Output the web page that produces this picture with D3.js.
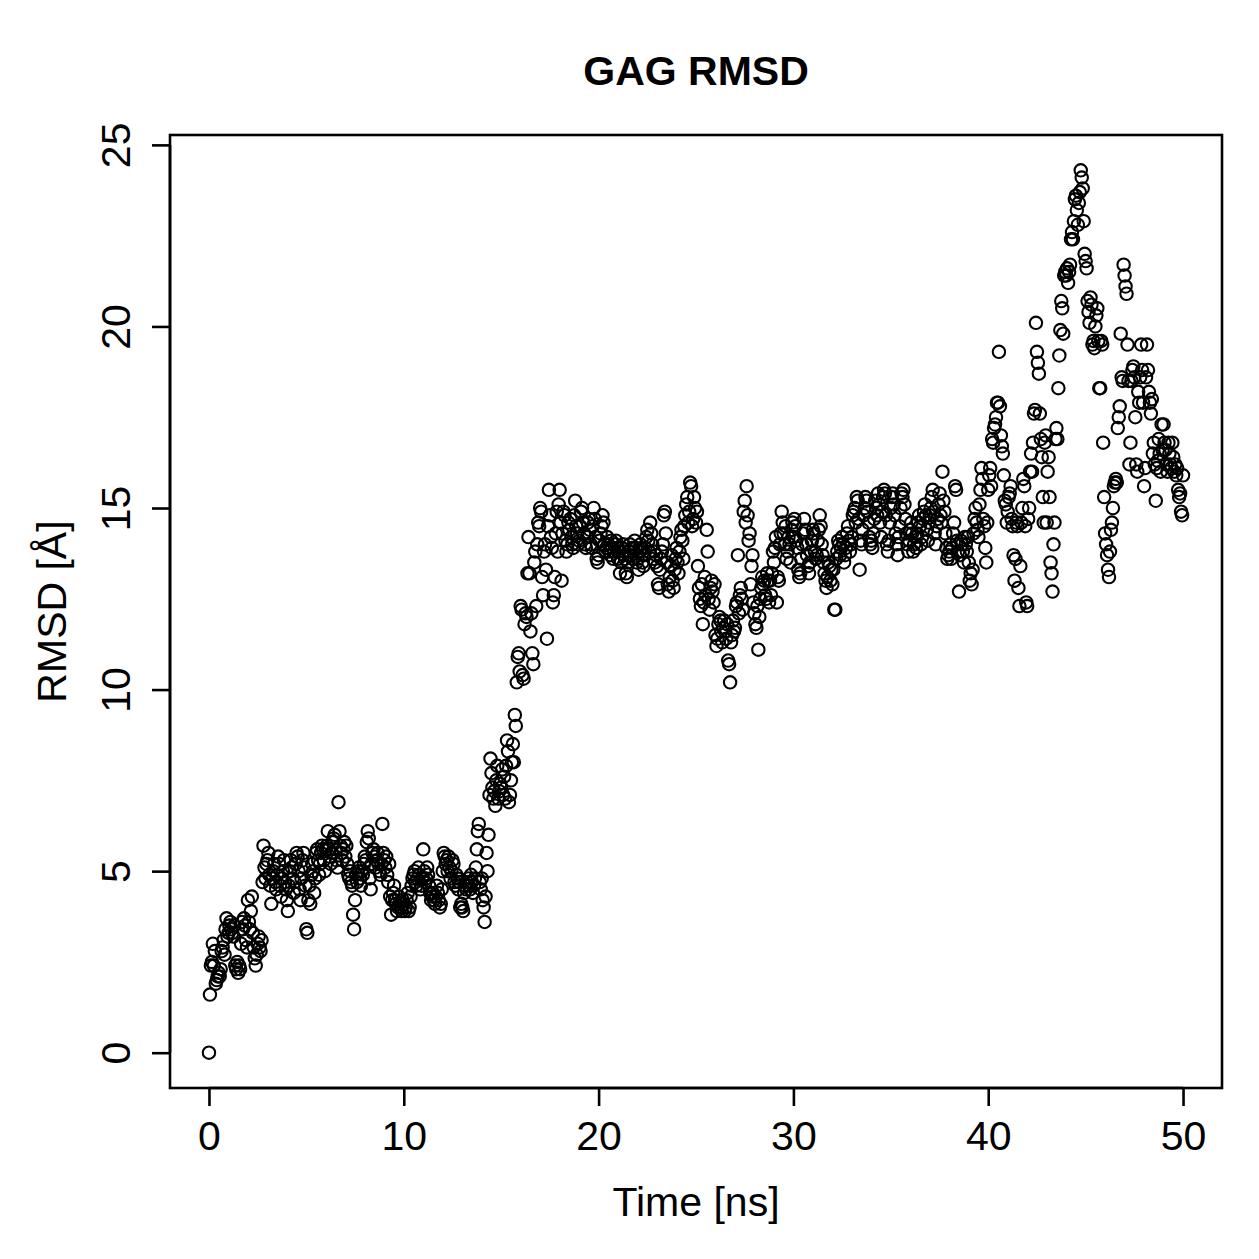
<!DOCTYPE html>
<html>
<head>
<meta charset="utf-8">
<script src="https://cdn.jsdelivr.net/npm/d3@7"></script>
<style>
  html, body { margin: 0; padding: 0; background: #fff; }
  svg text { font-family: "Liberation Sans", Arial, Helvetica, sans-serif; fill: #000; }
</style>
</head>
<body>
<svg id="chart" width="1259" height="1259"></svg>
<script>
// ---- Data ----
const chartTitle = "GAG RMSD";
const xLabel = "Time [ns]";
const yLabel = "RMSD [Å]";
const xTicks = [0, 10, 20, 30, 40, 50];
const yTicks = [0, 5, 10, 15, 20, 25];

// RMSD values, one row per nanosecond (20 frames per ns, 0.05 ns spacing)
const rmsdPerNs = [
  [0.0,1.6,2.4,2.5,3.0,2.4,2.8,1.9,2.0,2.1,2.2,2.1,2.3,2.8,2.9,3.1,2.7,3.4,3.7,3.2],
  [3.3,3.5,3.6,3.4,3.3,3.2,3.5,2.4,2.3,2.5,2.2,2.4,2.3,3.0,3.6,3.4,3.7,3.5,3.1,2.9],
  [4.2,3.6,3.4,3.9,4.3,3.3,2.9,2.6,2.4,2.7,3.0,3.2,2.9,2.8,3.1,4.7,5.7,5.1,4.8,5.2],
  [5.3,5.5,4.9,4.6,4.1,4.8,5.0,5.2,4.7,4.5,4.9,5.4,5.2,4.6,4.3,4.8,5.0,5.3,4.7,4.5],
  [4.2,3.9,4.6,5.0,5.3,5.1,4.8,4.4,4.7,5.2,5.5,5.4,5.0,4.5,4.2,4.8,5.3,5.5,5.1,4.6],
  [3.4,3.3,4.2,4.6,4.1,4.9,5.2,5.0,4.4,4.8,5.5,5.6,5.3,4.9,5.2,5.5,5.7,5.6,5.3,5.0],
  [5.6,5.7,6.1,5.6,5.4,5.2,5.5,5.8,5.9,6.0,5.6,5.3,5.1,6.9,6.1,5.7,5.5,5.3,5.6,5.8],
  [5.4,5.7,5.2,4.9,4.8,5.0,4.7,4.6,3.8,3.4,4.2,4.9,4.7,5.0,5.1,4.8,4.6,5.0,4.9,5.2],
  [5.4,5.3,5.8,6.1,5.9,4.8,4.5,5.2,5.5,5.6,5.4,5.1,5.3,5.5,5.2,5.0,4.9,5.2,6.3,5.5],
  [5.3,5.1,5.4,4.9,4.7,5.2,4.3,3.8,4.2,4.4,4.6,4.2,4.1,3.9,4.0,4.3,4.1,4.0,3.9,4.2],
  [4.1,3.9,4.0,4.2,4.4,3.9,4.0,4.3,4.6,4.8,4.9,5.0,4.7,4.6,4.8,5.1,4.9,4.5,4.6,4.8],
  [5.6,5.0,4.7,4.8,5.1,4.9,4.6,4.4,4.2,4.3,4.4,4.2,4.1,4.3,4.6,4.4,4.2,4.0,4.1,4.5],
  [5.0,5.5,5.4,5.2,5.3,5.0,5.4,5.1,4.8,5.0,5.3,5.2,4.7,4.6,4.9,4.8,4.5,4.7,4.0,4.1],
  [4.0,3.9,4.4,4.6,4.5,4.7,4.8,4.6,4.5,4.9,4.7,4.4,4.6,4.8,5.1,5.6,6.1,6.3,4.7,4.5],
  [4.8,4.2,4.0,3.6,4.3,5.5,5.0,6.0,7.1,8.1,7.7,7.3,7.0,7.2,6.8,7.5,7.9,7.0,7.2,7.4],
  [7.3,7.8,7.1,7.6,7.0,7.9,8.6,8.3,6.9,7.1,7.5,8.0,8.5,8.0,9.3,9.0,10.2,10.9,11.0,10.5],
  [12.3,12.2,10.4,10.3,11.8,12.1,12.0,13.2,14.2,13.2,11.6,12.1,11.0,10.7,13.5,13.8,12.3,14.0,14.6,14.5],
  [15.0,14.9,13.1,12.6,13.8,14.0,13.3,11.4,14.5,15.5,14.8,14.2,13.9,12.4,12.6,13.1,14.3,14.9,13.8,15.1],
  [15.5,14.6,13.0,14.3,14.9,14.8,14.1,13.8,14.0,14.6,14.4,14.7,14.2,14.0,13.9,14.8,15.2,14.5,14.3,14.0],
  [14.1,14.5,14.9,15.0,14.6,14.3,14.0,13.9,14.2,14.6,14.7,14.4,14.0,13.9,14.5,15.0,14.7,14.2,13.6,13.5],
  [13.7,14.1,14.3,14.5,14.8,14.6,14.0,13.8,13.9,14.2,14.0,13.8,13.7,14.1,13.9,13.6,13.8,14.0,14.1,13.9],
  [13.6,13.8,13.2,13.5,13.9,14.0,13.7,13.6,13.2,13.1,13.5,13.8,14.0,13.7,13.9,13.6,13.8,14.1,13.9,13.5],
  [13.6,13.3,13.8,14.0,13.9,13.5,13.4,13.7,13.9,14.2,14.4,14.1,13.8,14.6,14.3,14.0,13.6,13.8,13.5,13.7],
  [13.4,12.9,12.8,13.3,13.6,13.8,14.0,14.8,14.9,14.3,13.5,12.9,12.7,13.1,13.4,13.7,13.0,12.8,13.3,13.6],
  [13.9,13.5,13.2,13.8,14.2,14.4,14.1,13.6,14.5,14.8,15.1,15.3,14.6,14.9,15.7,15.6,14.5,14.7,15.3,15.0],
  [14.6,14.9,13.4,12.8,12.5,12.3,12.9,11.8,12.4,13.1,12.6,14.4,13.8,12.5,12.2,12.8,13.0,12.7,12.4,12.9],
  [11.5,11.2,11.4,11.8,12.0,11.9,11.6,11.3,11.7,11.9,11.6,11.4,11.8,10.8,10.7,10.2,11.3,11.5,11.9,11.6],
  [11.7,12.3,12.4,13.7,12.1,12.6,12.8,12.5,12.2,14.9,15.2,14.6,15.6,14.8,14.1,14.3,12.9,13.4,13.7,12.4],
  [12.1,11.8,11.7,12.3,11.1,12.0,12.5,12.8,13.1,12.9,13.0,12.6,12.5,13.2,13.0,12.4,13.0,12.6,13.2,13.8],
  [13.5,13.9,14.2,12.4,13.1,13.0,14.0,14.3,14.9,14.6,14.3,14.0,14.5,13.6,13.8,14.2,14.0,13.5,14.4,14.6],
  [14.2,14.7,14.5,14.1,13.9,13.3,13.1,13.2,13.6,14.0,14.3,14.7,14.4,14.0,13.7,13.4,13.2,13.5,13.8,14.1],
  [14.4,14.3,13.8,13.6,13.7,14.1,14.4,14.8,14.5,14.0,13.7,13.5,13.2,13.0,12.8,13.1,13.5,13.4,13.0,13.3],
  [12.9,13.3,12.2,12.2,13.6,13.8,14.1,14.0,13.7,13.9,14.2,14.0,13.5,13.7,13.9,14.3,14.5,14.1,13.8,14.0],
  [14.2,14.8,14.9,15.0,14.6,15.3,15.2,14.7,13.3,14.1,14.0,14.4,14.8,15.0,15.3,15.2,14.9,14.6,14.2,14.0],
  [14.1,13.9,14.3,14.7,15.2,15.0,14.8,15.4,15.1,14.6,14.2,14.9,15.3,15.5,15.4,14.8,14.0,13.8,14.1,14.6],
  [15.0,15.3,15.4,15.1,14.8,14.3,14.0,13.7,14.2,14.5,15.0,15.4,15.3,15.5,15.1,14.7,14.3,14.0,13.8,14.1],
  [14.4,14.6,14.3,13.8,14.0,14.2,13.9,14.3,14.6,14.8,14.5,14.0,14.2,14.7,14.9,15.1,14.8,14.4,14.1,14.6],
  [14.8,15.0,15.3,15.5,14.9,14.3,14.0,14.5,14.7,15.1,15.4,14.8,14.6,16.0,15.2,14.9,14.3,13.9,13.6,13.7],
  [13.8,14.0,13.6,13.9,14.3,14.6,15.6,15.5,14.1,13.8,12.7,13.7,14.1,14.0,13.8,13.5,14.2,14.0,13.8,14.2],
  [13.5,13.0,13.2,12.9,13.3,14.3,14.7,15.0,14.6,14.4,14.2,15.1,15.5,16.1,15.8,14.7,14.5,13.9,13.5,14.6],
  [15.5,15.9,16.1,15.6,16.9,16.8,17.2,17.3,17.5,17.9,17.9,19.3,17.8,17.0,16.7,16.5,15.9,15.2,15.1,14.6],
  [14.9,15.3,15.4,15.6,14.7,14.5,13.7,13.0,13.6,14.6,14.5,12.8,12.3,13.4,14.6,15.0,15.8,15.6,14.5,12.4],
  [12.3,14.7,15.0,16.0,16.5,16.0,16.8,17.6,17.7,20.1,19.3,19.0,18.7,17.6,16.9,16.4,15.3,14.6,16.8,17.0],
  [14.6,16.0,16.4,15.3,13.5,13.2,12.7,14.0,14.6,16.9,17.2,16.9,18.3,19.2,19.9,20.7,20.5,19.8,21.4,21.5],
  [21.4,21.6,21.2,21.5,21.7,22.4,22.6,22.4,22.9,23.5,23.6,23.2,22.8,23.4,23.7,24.3,24.1,23.8,22.9,22.0],
  [21.8,21.6,20.7,20.4,20.1,20.8,20.6,19.5,19.6,19.4,20.0,20.3,20.5,19.6,18.3,18.3,19.6,19.5,16.8,15.3],
  [14.3,14.0,13.7,13.3,13.1,13.8,14.4,14.6,15.0,15.6,15.7,15.8,15.7,17.2,17.5,17.8,19.8,18.6,18.5,21.7],
  [21.4,21.1,20.9,19.5,18.5,16.2,16.8,18.5,18.8,18.9,18.6,17.5,16.2,16.0,18.2,17.9,18.6,19.5,18.8,17.9],
  [15.6,16.1,18.6,19.5,18.8,18.2,17.9,17.6,18.0,16.5,16.8,16.2,15.2,16.1,16.3,16.9,16.5,16.0,17.3,16.6],
  [17.3,16.8,16.6,16.2,16.0,16.8,16.5,16.2,16.1,16.8,16.4,16.0,16.2,15.9,16.1,15.5,15.3,15.4,14.9,14.8]
];
const rmsdAt50ns = 15.9;

// ---- Build point list ----
const points = [];
rmsdPerNs.forEach((row, k) => {
  row.forEach((v, i) => points.push({ t: k + i / row.length, v }));
});
points.push({ t: rmsdPerNs.length, v: rmsdAt50ns });

// ---- Layout (R base graphics look) ----
const plot = { left: 170, right: 1222, top: 135, bottom: 1088 };
const svg = d3.select("#chart");

const tExt = d3.extent(points, d => d.t);
const vExt = d3.extent(points, d => d.v);
const tPad = (tExt[1] - tExt[0]) * 0.04;
const vPad = (vExt[1] - vExt[0]) * 0.04;

const x = d3.scaleLinear().domain([tExt[0] - tPad, tExt[1] + tPad]).range([plot.left, plot.right]);
const y = d3.scaleLinear().domain([vExt[0] - vPad, vExt[1] + vPad]).range([plot.bottom, plot.top]);

const lw = 2.6;
const fs = 41;

// frame
svg.append("rect")
  .attr("x", plot.left).attr("y", plot.top)
  .attr("width", plot.right - plot.left).attr("height", plot.bottom - plot.top)
  .attr("fill", "none").attr("stroke", "#000").attr("stroke-width", lw);

// x axis
const xAxis = d3.axisBottom(x).tickValues(xTicks).tickSize(18).tickPadding(10).tickFormat(d3.format("d"));
const gx = svg.append("g").attr("transform", `translate(0,${plot.bottom})`).call(xAxis);
gx.select(".domain").attr("d", `M${x(xTicks[0])},0H${x(xTicks[xTicks.length - 1])}`)
  .attr("stroke", "#000").attr("stroke-width", lw);
gx.selectAll(".tick line").attr("stroke", "#000").attr("stroke-width", lw);
gx.selectAll(".tick text").attr("font-size", fs).attr("font-family", null)
  .attr("y", null).attr("dy", null).attr("transform", "translate(0,62)");

// y axis
const yAxis = d3.axisLeft(y).tickValues(yTicks).tickSize(18).tickPadding(10).tickFormat(d3.format("d"));
const gy = svg.append("g").attr("transform", `translate(${plot.left},0)`).call(yAxis);
gy.select(".domain").attr("d", `M0,${y(yTicks[0])}V${y(yTicks[yTicks.length - 1])}`)
  .attr("stroke", "#000").attr("stroke-width", lw);
gy.selectAll(".tick line").attr("stroke", "#000").attr("stroke-width", lw);
gy.selectAll(".tick text").attr("font-size", fs).attr("font-family", null)
  .attr("x", null).attr("dy", null)
  .attr("text-anchor", "middle")
  .attr("transform", "translate(-40,0) rotate(-90)");

// points
svg.append("g").selectAll("circle").data(points).join("circle")
  .attr("cx", d => x(d.t)).attr("cy", d => y(d.v)).attr("r", 6.2)
  .attr("fill", "none").attr("stroke", "#000").attr("stroke-width", 2.1);

// title
svg.append("text").attr("x", (plot.left + plot.right) / 2).attr("y", 85)
  .attr("text-anchor", "middle").attr("font-size", fs).attr("font-weight", "bold")
  .text(chartTitle);

// axis titles
svg.append("text").attr("x", (plot.left + plot.right) / 2).attr("y", 1216)
  .attr("text-anchor", "middle").attr("font-size", fs).text(xLabel);
svg.append("text")
  .attr("transform", `translate(66,${(plot.top + plot.bottom) / 2}) rotate(-90)`)
  .attr("text-anchor", "middle").attr("font-size", fs).text(yLabel);
</script>
</body>
</html>
